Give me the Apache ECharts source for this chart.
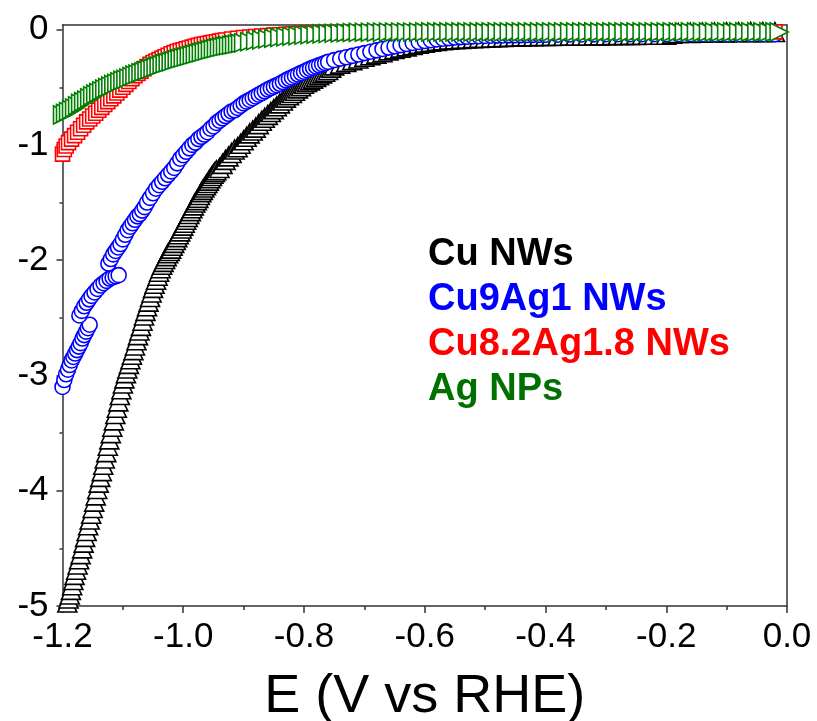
<!DOCTYPE html>
<html>
<head>
<meta charset="utf-8">
<script src="https://cdn.jsdelivr.net/npm/echarts@6/dist/echarts.min.js"></script>
<style>
  html, body { margin: 0; padding: 0; background: #fff; }
  #chart { width: 817px; height: 721px; }
</style>
</head>
<body>
<div id="chart"></div>
<script>
// Linear sweep voltammograms: current density j vs potential E (V vs RHE)
const seriesNames = ['Cu NWs', 'Cu9Ag1 NWs', 'Cu8.2Ag1.8 NWs', 'Ag NPs'];
const yMajorTicks = [-5, -4, -3, -2, -1, 0];
const yMinorTicks = [-4.5, -3.5, -2.5, -1.5, -0.5];
const xTickStep = 0.2;

// [E, j] pairs
const cuNWs = [
  [-1.192,-4.97],[-1.19,-4.935],[-1.188,-4.90],[-1.186,-4.86],[-1.184,-4.82],[-1.182,-4.775],[-1.18,-4.73],[-1.1775,-4.685],
  [-1.175,-4.64],[-1.1725,-4.595],[-1.17,-4.55],[-1.1675,-4.50],[-1.165,-4.45],[-1.1625,-4.40],[-1.16,-4.35],[-1.1575,-4.30],
  [-1.155,-4.25],[-1.1525,-4.20],[-1.15,-4.15],[-1.1475,-4.095],[-1.145,-4.04],[-1.1425,-3.985],[-1.14,-3.93],[-1.1375,-3.88],
  [-1.135,-3.83],[-1.1325,-3.775],[-1.13,-3.72],[-1.1275,-3.665],[-1.125,-3.61],[-1.1225,-3.555],[-1.12,-3.50],[-1.1175,-3.445],
  [-1.115,-3.39],[-1.1125,-3.335],[-1.11,-3.28],[-1.1075,-3.225],[-1.105,-3.17],[-1.1025,-3.12],[-1.10,-3.07],[-1.0975,-3.025],
  [-1.095,-2.98],[-1.0925,-2.94],[-1.09,-2.90],[-1.0875,-2.86],[-1.085,-2.82],[-1.0825,-2.78],[-1.08,-2.74],[-1.0775,-2.695],
  [-1.075,-2.65],[-1.0725,-2.61],[-1.07,-2.57],[-1.0675,-2.525],[-1.065,-2.48],[-1.0625,-2.44],[-1.06,-2.40],[-1.0575,-2.36],
  [-1.055,-2.32],[-1.0525,-2.28],[-1.05,-2.24],[-1.0475,-2.205],[-1.045,-2.17],[-1.0425,-2.135],[-1.04,-2.10],[-1.0375,-2.07],
  [-1.035,-2.04],[-1.0325,-2.015],[-1.03,-1.99],[-1.0275,-1.965],[-1.025,-1.94],[-1.0225,-1.92],[-1.02,-1.90],[-1.0175,-1.875],
  [-1.015,-1.85],[-1.0125,-1.825],[-1.01,-1.80],[-1.0075,-1.775],[-1.005,-1.75],[-1.0025,-1.725],[-1.00,-1.70],[-0.9975,-1.675],
  [-0.995,-1.65],[-0.9925,-1.625],[-0.99,-1.60],[-0.9875,-1.575],[-0.985,-1.55],[-0.9825,-1.525],[-0.98,-1.50],[-0.9775,-1.48],
  [-0.975,-1.46],[-0.9725,-1.435],[-0.97,-1.41],[-0.9675,-1.39],[-0.965,-1.37],[-0.9625,-1.35],[-0.96,-1.33],[-0.9575,-1.31],
  [-0.955,-1.29],[-0.9525,-1.27],[-0.95,-1.25],[-0.9475,-1.235],
  [-0.945,-1.22],[-0.94,-1.20],[-0.935,-1.165],[-0.93,-1.13],[-0.925,-1.10],[-0.92,-1.07],
  [-0.915,-1.04],[-0.91,-1.02],[-0.905,-0.99],[-0.90,-0.96],[-0.895,-0.93],[-0.89,-0.90],[-0.885,-0.875],[-0.88,-0.85],
  [-0.875,-0.82],[-0.87,-0.79],[-0.865,-0.765],[-0.86,-0.74],[-0.855,-0.715],[-0.85,-0.69],[-0.845,-0.665],[-0.84,-0.64],
  [-0.835,-0.615],[-0.83,-0.59],[-0.825,-0.57],[-0.82,-0.55],[-0.815,-0.53],[-0.81,-0.51],[-0.805,-0.49],[-0.80,-0.47],
  [-0.795,-0.455],[-0.79,-0.44],[-0.785,-0.425],[-0.78,-0.41],[-0.775,-0.395],[-0.77,-0.38],[-0.765,-0.365],[-0.76,-0.35],
  [-0.755,-0.33],[-0.75,-0.31],[-0.74,-0.295],[-0.73,-0.28],[-0.72,-0.265],
  [-0.71,-0.25],[-0.70,-0.236],[-0.69,-0.222],[-0.68,-0.208],[-0.67,-0.195],[-0.66,-0.18],[-0.65,-0.168],[-0.64,-0.156],
  [-0.63,-0.145],[-0.62,-0.134],[-0.61,-0.123],[-0.60,-0.113],[-0.59,-0.105],[-0.58,-0.098],[-0.57,-0.092],[-0.56,-0.087],
  [-0.55,-0.083],[-0.54,-0.08],[-0.53,-0.077],[-0.52,-0.074],[-0.51,-0.072],[-0.50,-0.07],[-0.49,-0.068],[-0.48,-0.066],
  [-0.47,-0.064],[-0.46,-0.062],[-0.45,-0.06],[-0.44,-0.059],[-0.43,-0.058],[-0.42,-0.057],[-0.41,-0.056],[-0.40,-0.055],
  [-0.39,-0.054],[-0.38,-0.053],[-0.37,-0.053],[-0.36,-0.052],[-0.35,-0.052],[-0.34,-0.051],[-0.33,-0.051],[-0.32,-0.05],
  [-0.31,-0.05],[-0.30,-0.049],[-0.29,-0.048],[-0.28,-0.047],[-0.27,-0.047],[-0.26,-0.046],[-0.25,-0.046],[-0.24,-0.045],
  [-0.23,-0.045],[-0.22,-0.045],[-0.21,-0.044],[-0.20,-0.044],[-0.19,-0.035],[-0.18,-0.03],[-0.16,-0.028],[-0.14,-0.026],
  [-0.12,-0.025],[-0.10,-0.024],[-0.08,-0.023],[-0.06,-0.022],[-0.04,-0.022],[-0.02,-0.021]
];

const cu9Ag1 = [
  [-1.2,-3.10],[-1.197,-3.04],[-1.194,-2.99],[-1.191,-2.95],[-1.188,-2.91],[-1.185,-2.87],[-1.182,-2.84],[-1.179,-2.81],
  [-1.176,-2.78],[-1.173,-2.75],[-1.17,-2.72],[-1.167,-2.68],[-1.164,-2.65],[-1.161,-2.62],[-1.158,-2.59],[-1.155,-2.56],
  [-1.172,-2.48],[-1.168,-2.44],[-1.164,-2.40],[-1.16,-2.37],[-1.156,-2.34],[-1.152,-2.31],[-1.147,-2.28],[-1.142,-2.25],
  [-1.137,-2.22],[-1.132,-2.20],[-1.127,-2.18],[-1.122,-2.16],[-1.117,-2.15],[-1.112,-2.14],[-1.107,-2.13],
  [-1.124,-2.03],[-1.12,-1.99],[-1.116,-1.95],[-1.112,-1.92],[-1.108,-1.89],[-1.104,-1.86],[-1.10,-1.82],[-1.096,-1.78],
  [-1.092,-1.74],[-1.088,-1.71],[-1.084,-1.68],[-1.08,-1.65],[-1.076,-1.62],[-1.072,-1.60],[-1.068,-1.57],[-1.064,-1.54],
  [-1.06,-1.50],[-1.055,-1.46],[-1.05,-1.42],[-1.045,-1.38],[-1.04,-1.35],[-1.035,-1.32],[-1.03,-1.29],[-1.025,-1.26],
  [-1.02,-1.23],[-1.015,-1.20],[-1.01,-1.16],[-1.005,-1.12],[-1.00,-1.09],[-0.995,-1.06],[-0.99,-1.03],[-0.985,-1.00],
  [-0.98,-0.98],[-0.975,-0.95],[-0.97,-0.93],[-0.965,-0.91],[-0.96,-0.89],[-0.955,-0.86],[-0.95,-0.84],[-0.945,-0.81],
  [-0.94,-0.79],[-0.935,-0.77],[-0.93,-0.75],[-0.925,-0.73],[-0.92,-0.71],[-0.915,-0.70],[-0.91,-0.68],[-0.905,-0.66],
  [-0.90,-0.64],[-0.895,-0.625],[-0.89,-0.61],[-0.885,-0.595],[-0.88,-0.58],[-0.875,-0.565],[-0.87,-0.55],[-0.865,-0.535],
  [-0.86,-0.52],[-0.855,-0.507],[-0.85,-0.495],[-0.845,-0.482],[-0.84,-0.47],[-0.835,-0.455],[-0.83,-0.44],[-0.825,-0.427],
  [-0.82,-0.415],[-0.815,-0.402],[-0.81,-0.39],[-0.805,-0.377],[-0.80,-0.365],[-0.795,-0.352],[-0.79,-0.34],[-0.785,-0.33],
  [-0.78,-0.32],[-0.775,-0.31],[-0.77,-0.30],[-0.765,-0.29],
  [-0.76,-0.28],[-0.75,-0.265],[-0.74,-0.252],[-0.73,-0.24],[-0.72,-0.228],[-0.71,-0.216],[-0.70,-0.204],[-0.69,-0.192],
  [-0.68,-0.18],[-0.67,-0.168],[-0.66,-0.156],[-0.65,-0.145],[-0.64,-0.135],[-0.63,-0.125],[-0.62,-0.116],[-0.61,-0.107],
  [-0.60,-0.099],[-0.59,-0.092],[-0.58,-0.085],[-0.57,-0.079],[-0.56,-0.074],[-0.55,-0.069],[-0.54,-0.065],[-0.53,-0.062],
  [-0.52,-0.059],[-0.51,-0.057],[-0.50,-0.055],[-0.49,-0.053],[-0.48,-0.052],[-0.47,-0.051],[-0.46,-0.05],[-0.45,-0.049],
  [-0.44,-0.048],[-0.43,-0.047],[-0.42,-0.046],[-0.41,-0.046],[-0.40,-0.045],[-0.38,-0.044],[-0.36,-0.043],[-0.34,-0.042],
  [-0.32,-0.041],[-0.30,-0.04],[-0.28,-0.04],[-0.26,-0.04],[-0.24,-0.04],[-0.22,-0.04],[-0.20,-0.04],[-0.18,-0.04],
  [-0.16,-0.04],[-0.14,-0.04],[-0.12,-0.04],[-0.10,-0.04],[-0.08,-0.04],[-0.06,-0.04],[-0.04,-0.04],[-0.02,-0.04]
];

const cu82Ag18 = [
  [-1.2,-1.08],[-1.197,-1.04],[-1.194,-1.01],[-1.19,-0.98],[-1.185,-0.95],[-1.18,-0.92],[-1.175,-0.89],[-1.17,-0.86],
  [-1.165,-0.83],[-1.16,-0.80],[-1.155,-0.775],[-1.15,-0.75],[-1.145,-0.725],[-1.14,-0.70],[-1.135,-0.675],[-1.13,-0.65],
  [-1.125,-0.625],[-1.12,-0.60],[-1.115,-0.575],[-1.11,-0.55],[-1.105,-0.525],[-1.10,-0.50],[-1.095,-0.475],[-1.09,-0.45],
  [-1.085,-0.425],[-1.08,-0.40],[-1.075,-0.38],[-1.07,-0.36],[-1.065,-0.34],[-1.06,-0.32],[-1.055,-0.30],[-1.05,-0.285],
  [-1.045,-0.272],[-1.04,-0.26],[-1.035,-0.247],[-1.03,-0.235],[-1.025,-0.222],[-1.02,-0.21],[-1.015,-0.20],[-1.01,-0.19],
  [-1.005,-0.182],[-1.00,-0.175],[-0.995,-0.167],[-0.99,-0.16],[-0.985,-0.152],[-0.98,-0.145],[-0.975,-0.137],[-0.97,-0.13],
  [-0.965,-0.125],[-0.96,-0.12],[-0.955,-0.115],[-0.95,-0.11],[-0.945,-0.105],[-0.94,-0.10],[-0.935,-0.095],[-0.93,-0.09],
  [-0.92,-0.082],[-0.91,-0.075],[-0.90,-0.069],[-0.89,-0.064],[-0.88,-0.06],[-0.87,-0.056],[-0.86,-0.052],[-0.85,-0.048],
  [-0.84,-0.044],[-0.83,-0.041],[-0.82,-0.038],[-0.81,-0.035],[-0.80,-0.033],[-0.79,-0.031],[-0.78,-0.03],[-0.77,-0.029],
  [-0.76,-0.028],[-0.75,-0.027],[-0.74,-0.026],[-0.72,-0.025],[-0.70,-0.024],[-0.68,-0.023],[-0.66,-0.022],[-0.62,-0.022],
  [-0.58,-0.021],[-0.54,-0.021],[-0.50,-0.02],[-0.46,-0.02],[-0.42,-0.02],[-0.38,-0.02],[-0.34,-0.02],[-0.30,-0.02],
  [-0.26,-0.02],[-0.22,-0.02],[-0.18,-0.02],[-0.14,-0.02],[-0.10,-0.02],[-0.06,-0.02],[-0.02,-0.02]
];

const agNPs = [
  [-1.2,-0.74],[-1.195,-0.725],[-1.19,-0.71],[-1.185,-0.695],[-1.18,-0.68],[-1.175,-0.66],[-1.17,-0.64],[-1.165,-0.625],
  [-1.16,-0.61],[-1.155,-0.592],[-1.15,-0.575],[-1.145,-0.56],[-1.14,-0.545],[-1.135,-0.53],[-1.13,-0.515],[-1.125,-0.502],
  [-1.12,-0.49],[-1.115,-0.477],[-1.11,-0.465],[-1.105,-0.452],[-1.10,-0.44],[-1.095,-0.43],[-1.09,-0.42],[-1.085,-0.407],
  [-1.08,-0.395],[-1.075,-0.385],[-1.07,-0.375],[-1.065,-0.365],[-1.06,-0.355],[-1.055,-0.345],[-1.05,-0.335],[-1.045,-0.325],
  [-1.04,-0.315],[-1.035,-0.305],[-1.03,-0.295],[-1.025,-0.287],[-1.02,-0.28],[-1.015,-0.27],[-1.01,-0.26],[-1.005,-0.252],
  [-1.00,-0.245],[-0.995,-0.237],[-0.99,-0.23],[-0.985,-0.222],[-0.98,-0.215],[-0.975,-0.207],[-0.97,-0.20],[-0.965,-0.192],
  [-0.96,-0.185],[-0.955,-0.177],[-0.95,-0.17],[-0.945,-0.163],[-0.94,-0.157],[-0.935,-0.151],[-0.93,-0.145],[-0.925,-0.14],
  [-0.92,-0.135],[-0.915,-0.13],[-0.91,-0.125],[-0.905,-0.12],[-0.90,-0.115],[-0.89,-0.105],[-0.88,-0.097],[-0.87,-0.089],
  [-0.86,-0.082],[-0.85,-0.075],[-0.84,-0.069],[-0.83,-0.063],[-0.82,-0.058],[-0.81,-0.053],[-0.80,-0.048],[-0.79,-0.044],
  [-0.78,-0.04],[-0.77,-0.037],[-0.76,-0.034],[-0.75,-0.031],[-0.74,-0.029],[-0.73,-0.027],[-0.72,-0.025],[-0.71,-0.024],
  [-0.70,-0.023],[-0.69,-0.023],[-0.68,-0.022],[-0.67,-0.022],[-0.66,-0.022],[-0.65,-0.021],[-0.64,-0.021],[-0.63,-0.021],
  [-0.62,-0.021],[-0.61,-0.021],[-0.60,-0.02],[-0.59,-0.02],[-0.58,-0.02],[-0.57,-0.02],[-0.56,-0.02],[-0.55,-0.02],
  [-0.54,-0.02],[-0.53,-0.02],[-0.52,-0.02],[-0.51,-0.02],[-0.50,-0.02],[-0.49,-0.02],[-0.48,-0.02],[-0.47,-0.02],
  [-0.46,-0.02],[-0.45,-0.02],[-0.44,-0.02],[-0.43,-0.02],[-0.42,-0.02],[-0.41,-0.02],[-0.40,-0.02],[-0.39,-0.02],
  [-0.38,-0.02],[-0.37,-0.02],[-0.36,-0.02],[-0.35,-0.02],[-0.34,-0.02],[-0.33,-0.02],[-0.32,-0.02],[-0.31,-0.02],
  [-0.30,-0.02],[-0.29,-0.02],[-0.28,-0.02],[-0.27,-0.02],[-0.26,-0.02],[-0.25,-0.02],[-0.24,-0.02],[-0.23,-0.02],
  [-0.22,-0.02],[-0.21,-0.02],[-0.20,-0.02],[-0.19,-0.02],[-0.18,-0.02],[-0.17,-0.02],[-0.16,-0.02],[-0.15,-0.02],
  [-0.14,-0.02],[-0.13,-0.02],[-0.12,-0.02],[-0.11,-0.02],[-0.10,-0.02],[-0.09,-0.02],[-0.08,-0.02],[-0.07,-0.02],
  [-0.06,-0.02],[-0.05,-0.02],[-0.04,-0.02],[-0.03,-0.02],[-0.02,-0.02],[-0.013,-0.02]
];

const seriesData = [cuNWs, cu9Ag1, cu82Ag18, agNPs];
const seriesColors = ['#000000', '#0000ff', '#ff0000', '#008000'];
const legendColors = ['#000000', '#0000ff', '#ff0000', '#007000'];
const seriesSymbols = ['triangle', 'circle', 'rect', 'triangle'];
const seriesSymbolRotate = [0, 0, 0, -90];
const seriesSymbolSize = [19, 15, 14, 18];

const FONT = "'Liberation Sans', Arial, sans-serif";
const AXIS_COLOR = '#333';
const yRange = { min: -5, max: 0.04 };

const chart = echarts.init(document.getElementById('chart'), null, { renderer: 'canvas' });

const option = {
  animation: false,
  backgroundColor: '#fff',
  grid: { left: 62.5, right: 30, top: 25, bottom: 115, outerBoundsMode: 'none', containLabel: false },
  legend: {
    left: 423,
    top: 232,
    orient: 'vertical',
    padding: 0,
    itemGap: 0,
    itemWidth: 0,
    itemHeight: 0,
    icon: 'none',
    selectedMode: false,
    textStyle: { fontFamily: FONT, fontSize: 38, fontWeight: 'bold', lineHeight: 45 },
    data: seriesNames.map((n, i) => ({ name: n, textStyle: { color: legendColors[i] } }))
  },
  xAxis: [
    {
      type: 'value',
      position: 'bottom',
      min: -1.2,
      max: 0,
      interval: xTickStep,
      name: 'E (V vs RHE)',
      nameLocation: 'middle',
      nameGap: 64,
      nameTextStyle: { fontFamily: FONT, fontSize: 54, color: '#000' },
      axisLine: { show: true, onZero: false, lineStyle: { color: AXIS_COLOR, width: 1.5 } },
      axisTick: { show: true, inside: false, length: 7, lineStyle: { color: AXIS_COLOR, width: 1.5 } },
      minorTick: { show: true, splitNumber: 2, length: 4, lineStyle: { color: AXIS_COLOR, width: 1.5 } },
      axisLabel: { fontFamily: FONT, fontSize: 35, color: '#000', margin: 14, formatter: v => v.toFixed(1) },
      splitLine: { show: false }
    },
    {
      type: 'value',
      position: 'top',
      min: -1.2,
      max: 0,
      axisLine: { show: true, onZero: false, lineStyle: { color: AXIS_COLOR, width: 1.5 } },
      axisTick: { show: false },
      axisLabel: { show: false },
      splitLine: { show: false }
    }
  ],
  yAxis: [
    {
      type: 'value',
      position: 'left',
      min: yRange.min,
      max: yRange.max,
      axisLine: { show: true, onZero: false, lineStyle: { color: AXIS_COLOR, width: 1.5 } },
      axisTick: { show: true, inside: false, length: 6, customValues: yMajorTicks, lineStyle: { color: AXIS_COLOR, width: 1.5 } },
      axisLabel: { fontFamily: FONT, fontSize: 35, color: '#000', margin: 14, customValues: yMajorTicks, formatter: v => String(v) },
      splitLine: { show: false }
    },
    {
      type: 'value',
      position: 'left',
      min: yRange.min,
      max: yRange.max,
      axisLine: { show: false, onZero: false },
      axisTick: { show: true, inside: false, length: 3, customValues: yMinorTicks, lineStyle: { color: AXIS_COLOR, width: 1.5 } },
      axisLabel: { show: false },
      splitLine: { show: false }
    },
    {
      type: 'value',
      position: 'right',
      min: yRange.min,
      max: yRange.max,
      axisLine: { show: true, onZero: false, lineStyle: { color: AXIS_COLOR, width: 1.5 } },
      axisTick: { show: false },
      axisLabel: { show: false },
      splitLine: { show: false }
    }
  ],
  series: seriesNames.map((name, i) => ({
    name: name,
    type: 'scatter',
    xAxisIndex: 0,
    yAxisIndex: 0,
    data: seriesData[i],
    symbol: seriesSymbols[i],
    symbolSize: seriesSymbolSize[i],
    symbolRotate: seriesSymbolRotate[i],
    itemStyle: { color: '#ffffff', borderColor: seriesColors[i], borderWidth: 1.6, opacity: 1 },
    emphasis: { disabled: true },
    z: 2 + i
  }))
};

chart.setOption(option);
</script>
</body>
</html>
